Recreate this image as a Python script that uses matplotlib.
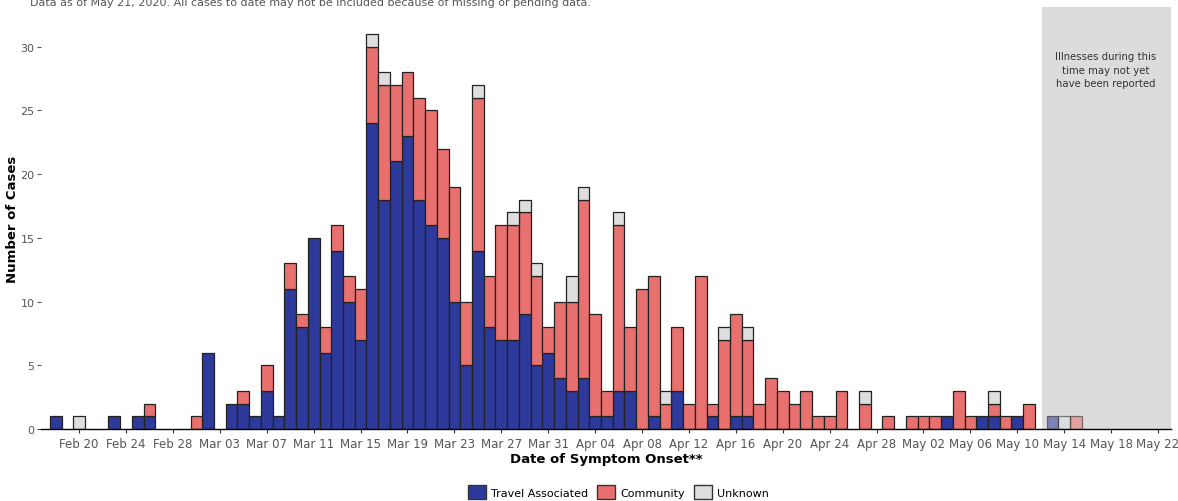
import matplotlib
matplotlib.use('Agg')
import matplotlib.pyplot as plt
import matplotlib.dates as mdates
from matplotlib.patches import Patch
import numpy as np
import pandas as pd

# daily counts from Feb 18 to May 15, 2020
start_date = '2020-02-18'
travel = [1, 0, 0, 0, 0, 1, 0, 1, 1, 0, 0, 0,
          0, 6, 0, 2, 2, 1, 3, 1, 11, 8, 15, 6, 14, 10, 7, 24, 18, 21, 23, 18,
          16, 15, 10, 5, 14, 8, 7, 7, 9, 5, 6,
          4, 3, 4, 1, 1, 3, 3, 0, 1, 0, 3, 0, 0, 1, 0, 1, 1, 0, 0, 0, 0, 0, 0,
          0, 0, 0, 0, 0, 0, 0,
          0, 0, 0, 1, 0, 0, 1, 1, 0, 1, 0, 0, 1, 0, 0]
community = [0, 0, 0, 0, 0, 0, 0, 0, 1, 0, 0, 0,
             1, 0, 0, 0, 1, 0, 2, 0, 2, 1, 0, 2, 2, 2, 4, 6, 9, 6, 5, 8,
             9, 7, 9, 5, 12, 4, 9, 9, 8, 7, 2,
             6, 7, 14, 8, 2, 13, 5, 11, 11, 2, 5, 2, 12, 1, 7, 8, 6, 2, 4,
             3, 2, 3, 1, 1, 3, 0, 2, 0, 1, 0,
             1, 1, 1, 0, 3, 1, 0, 1, 1, 0, 2, 0, 0, 0, 1]
unknown = [0, 0, 1, 0, 0, 0, 0, 0, 0, 0, 0, 0,
           0, 0, 0, 0, 0, 0, 0, 0, 0, 0, 0, 0, 0, 0, 0, 1, 1, 0, 0, 0,
           0, 0, 0, 0, 1, 0, 0, 1, 1, 1, 0,
           0, 2, 1, 0, 0, 1, 0, 0, 0, 1, 0, 0, 0, 0, 1, 0, 1, 0, 0,
           0, 0, 0, 0, 0, 0, 0, 1, 0, 0, 0,
           0, 0, 0, 0, 0, 0, 0, 1, 0, 0, 0, 0, 0, 1, 0]
dates = pd.date_range(start_date, periods=len(travel), freq='D')

tick_dates = pd.date_range('2020-02-20', '2020-05-22', freq='4D')
shade_start = '2020-05-12'
shade_end = '2020-05-23'

travel = np.array(travel)
community = np.array(community)
unknown = np.array(unknown)

c_travel = '#2d3a9b'
c_comm = '#e8706e'
c_unk = '#dedede'
c_shade = '#dcdcdc'

fig = plt.figure(figsize=(11.78, 5.02), dpi=100)
ax = fig.add_axes([0.0346, 0.1434, 0.9594, 0.8406])

x = mdates.date2num(dates)
ax.axvspan(mdates.datestr2num(shade_start) + 0.1, mdates.datestr2num(shade_end) + 0.1,
           color=c_shade, zorder=0, lw=0)

kw = dict(width=1.0, edgecolor='#222222', linewidth=0.9, zorder=2)
b1 = ax.bar(x, travel, color=c_travel, **kw)
b2 = ax.bar(x, community, bottom=travel, color=c_comm, **kw)
b3 = ax.bar(x, unknown, bottom=travel + community, color=c_unk, **kw)

# bars in the shaded (possibly incomplete) period are faded
cut = mdates.datestr2num(shade_start)
for bars in (b1, b2, b3):
    for rect, xv in zip(bars, x):
        if rect.get_height() == 0:
            rect.set_visible(False)
        elif xv >= cut:
            rect.set_alpha(0.55)

ax.text(mdates.datestr2num('2020-05-17') + 0.5, 28.2,
        'Illnesses during this\ntime may not yet\nhave been reported',
        ha='center', va='center', fontsize=7.3, color='#333333', linespacing=1.4)

ax.set_xlim(mdates.datestr2num('2020-02-20') - 3.27, mdates.datestr2num('2020-02-20') + 93.1)
ax.set_ylim(0, 33.1)
ax.set_xticks(mdates.date2num(tick_dates))
ax.set_xticklabels([d.strftime('%b %d') for d in tick_dates])
ax.set_yticks(np.arange(0, 31, 5))

for s in ['top', 'right', 'left']:
    ax.spines[s].set_visible(False)
ax.spines['bottom'].set_color('black')
ax.spines['bottom'].set_linewidth(1.0)
ax.tick_params(axis='x', length=3, color='#333333', labelsize=8.5, labelcolor='#555555', pad=3)
ax.tick_params(axis='y', length=3, color='#555555', labelsize=8, labelcolor='#555555', pad=1.5)

ax.set_ylabel('Number of Cases', fontsize=9.5, fontweight='bold')
ax.yaxis.set_label_coords(-0.019, 0.5)
ax.set_xlabel('Date of Symptom Onset**', fontsize=9.5, fontweight='bold', labelpad=1)

handles = [Patch(facecolor=c_travel, edgecolor='#333333', label='Travel Associated'),
           Patch(facecolor=c_comm, edgecolor='#333333', label='Community'),
           Patch(facecolor=c_unk, edgecolor='#333333', label='Unknown')]
fig.legend(handles=handles, loc='center', bbox_to_anchor=(0.525, 0.018), ncol=3,
           frameon=False, fontsize=8, handlelength=1.6, handleheight=1.6,
           handletextpad=0.5, columnspacing=0.8)

fig.text(30 / 1178, 1.0 - 3 / 502, 'Data as of May 21, 2020. All cases to date may not be included '
         'because of missing or pending data.', ha='left', va='center',
         fontsize=8, color='#555555')

fig.savefig('out.png', dpi=100)
